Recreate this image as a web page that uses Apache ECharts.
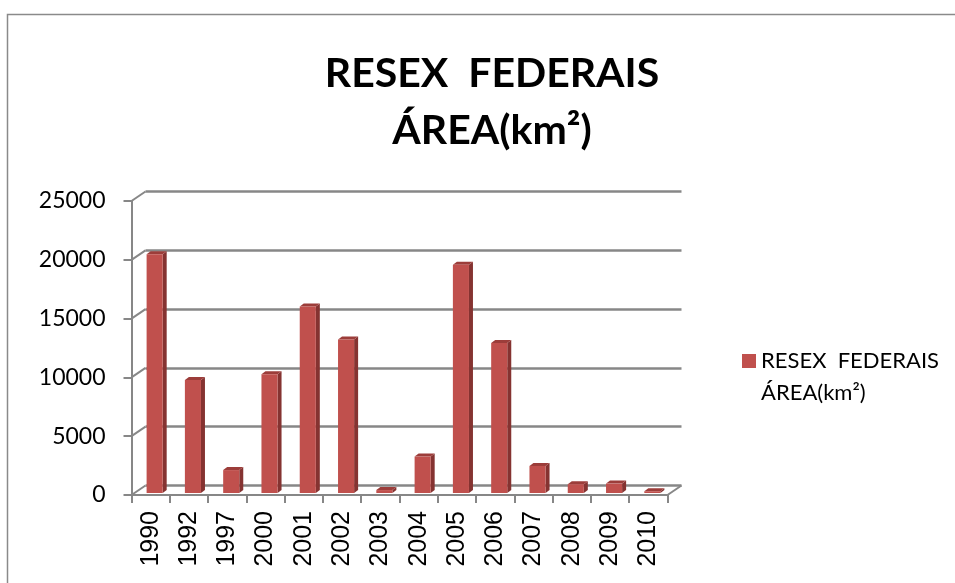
<!DOCTYPE html>
<html>
<head>
<meta charset="utf-8">
<script src="https://cdn.jsdelivr.net/npm/echarts@6/dist/echarts.min.js"></script>
<style>
  html, body { margin: 0; padding: 0; background: #fff; }
  #chart { width: 955px; height: 583px; }
</style>
</head>
<body>
<div id="chart"></div>
<script>
var years = ['1990','1992','1997','2000','2001','2002','2003','2004','2005','2006','2007','2008','2009','2010'];
var areaKm2 = [20300, 9600, 1950, 10100, 15850, 13050, 250, 3100, 19400, 12750, 2300, 750, 800, 150];
var yTicks = [0, 5000, 10000, 15000, 20000, 25000];
var seriesName = 'RESEX  FEDERAIS ÁREA(km²)';

// fake 3d look: back wall is shifted right/up from the front axes
var DEPTH_X = 14, DEPTH_Y = -9.5;
var gridLine = '#878787';

var wallData = yTicks.map(function(v){ return [0, v]; });
wallData.push([years.length - 1, 0]);

var mycharts = echarts.init(document.getElementById('chart'));
var options = {
  animation: false,
  color: ['#C0504D'],
  graphic: [{
    type: 'rect',
    left: 5, top: 12,
    shape: { width: 1000, height: 700 },
    style: { fill: 'none', stroke: '#8a8a8a', lineWidth: 1.5 },
    z: -10
  }],
  title: {
    text: 'RESEX  FEDERAIS\nÁREA(km²)',
    left: 487,
    top: 40,
    textAlign: 'center',
    textStyle: {
      fontFamily: 'Lato',
      fontWeight: 'bold',
      fontSize: 41,
      lineHeight: 57,
      color: '#000'
    }
  },
  legend: {
    left: 737,
    top: 340,
    itemWidth: 14,
    itemHeight: 46,
    icon: 'path://M0,0L14,0L14,14L0,14Z M0,46L0.01,46L0.01,46.01Z',
    formatter: function(){ return 'RESEX  FEDERAIS\nÁREA(km²)'; },
    textStyle: { fontFamily: 'Lato', fontSize: 22, lineHeight: 32, color: '#000' },
    data: [seriesName]
  },
  grid: [
    { left: 131.5, top: 201, width: 536, height: 294 },
    { left: 131.5 + DEPTH_X, top: 201 + DEPTH_Y, width: 536, height: 294 }
  ],
  xAxis: [{
    type: 'category',
    gridIndex: 0,
    data: years,
    boundaryGap: true,
    axisLine: { show: true, lineStyle: { color: gridLine, width: 2 } },
    axisTick: { show: true, alignWithLabel: false, length: 8, lineStyle: { color: gridLine, width: 2 } },
    axisLabel: {
      rotate: 90, margin: 16, interval: 0,
      fontFamily: 'Liberation Sans', fontSize: 25, color: '#000'
    },
    splitLine: { show: false }
  }, {
    type: 'category',
    gridIndex: 1,
    data: years,
    show: false
  }],
  yAxis: [{
    type: 'value',
    gridIndex: 0,
    min: 0, max: 25000, interval: 5000,
    axisLine: { show: true, lineStyle: { color: gridLine, width: 2 } },
    axisTick: { show: true, length: 8, lineStyle: { color: gridLine, width: 2 } },
    axisLabel: {
      margin: 26, fontFamily: 'Lato', fontSize: 23, color: '#000',
      formatter: function(v){ return String(v); }
    },
    splitLine: { show: false }
  }, {
    type: 'value',
    gridIndex: 1,
    min: 0, max: 25000, interval: 5000,
    axisLine: { show: false },
    axisTick: { show: false },
    axisLabel: { show: false },
    splitLine: { show: true, lineStyle: { color: gridLine, width: 2.5 } }
  }],
  series: [{
    name: 'walls',
    type: 'custom',
    xAxisIndex: 0, yAxisIndex: 0,
    clip: false,
    silent: true,
    data: wallData,
    renderItem: function(params, api){
      var i = api.value(0), v = api.value(1);
      var c = api.coord([i, v]);
      var half = api.size([1, 0])[0] / 2;
      var x = i === 0 ? c[0] - half : c[0] + half;
      return {
        type: 'line',
        shape: { x1: x, y1: c[1], x2: x + DEPTH_X, y2: c[1] + DEPTH_Y },
        style: { stroke: gridLine, lineWidth: 2 }
      };
    }
  }, {
    name: seriesName,
    type: 'custom',
    xAxisIndex: 0, yAxisIndex: 0,
    clip: false,
    itemStyle: { color: '#C0504D' },
    data: areaKm2.map(function(v, i){ return [i, v]; }),
    renderItem: function(params, api){
      var i = api.value(0), v = api.value(1);
      var top = api.coord([i, v]);
      var base = api.coord([i, 0]);
      var bw = api.size([1, 0])[0] * 0.42;
      var x0 = top[0] - bw / 2 + 4;
      var x1 = x0 + bw;
      var yTop = top[1] - 2;
      var yBase = base[1] - 2;
      var dx = 4, dy = -3;
      return {
        type: 'group',
        children: [{
          type: 'polygon',
          shape: { points: [[x1, yTop], [x1 + dx, yTop + dy], [x1 + dx, yBase + dy], [x1, yBase]] },
          style: { fill: '#853331' }
        }, {
          type: 'polygon',
          shape: { points: [[x0, yTop], [x0 + dx, yTop + dy], [x1 + dx, yTop + dy], [x1, yTop]] },
          style: { fill: '#9C3D3A' }
        }, {
          type: 'rect',
          shape: { x: x0, y: yTop, width: bw, height: yBase - yTop },
          style: { fill: '#C0504D' }
        }]
      };
    }
  }]
};
mycharts.setOption(options);
</script>
</body>
</html>
